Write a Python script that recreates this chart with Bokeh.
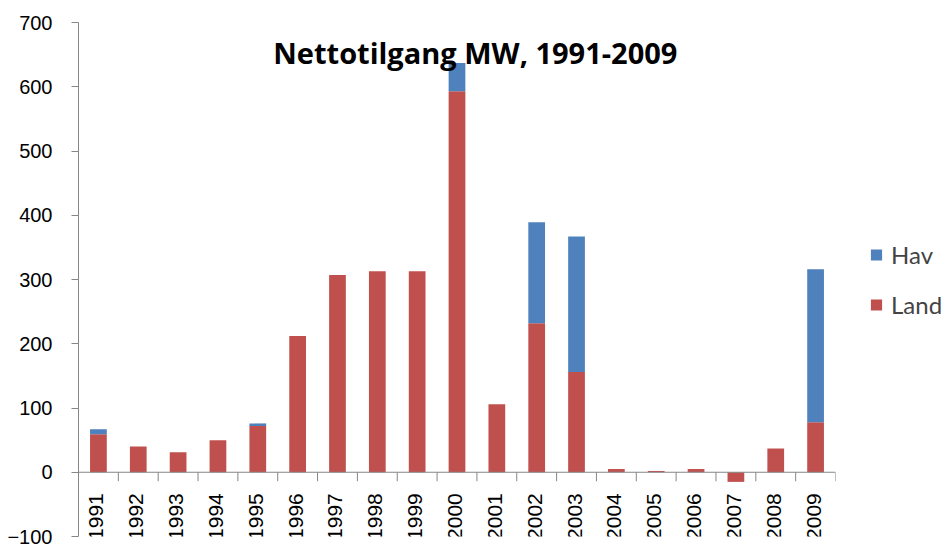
import math
from bokeh.plotting import figure
from bokeh.models import ColumnDataSource, Span, Legend, LegendItem, Label, Range1d, FixedTicker
from bokeh.core.properties import value
from bokeh.embed import file_html
from bokeh.resources import INLINE

years = ["1991", "1992", "1993", "1994", "1995", "1996", "1997", "1998", "1999", "2000",
         "2001", "2002", "2003", "2004", "2005", "2006", "2007", "2008", "2009"]
land = [59, 40, 31, 50, 72, 212, 307, 313, 313, 593, 106, 232, 156, 5, 2, 5, -15, 37, 78]
hav = [8, 0, 0, 0, 4, 0, 0, 0, 0, 44, 0, 157, 211, 0, 0, 0, 0, 0, 238]
y_ticks = [-100, 0, 100, 200, 300, 400, 500, 600, 700]

x = list(range(len(years)))
src = ColumnDataSource(dict(x=x, land=land, hav=hav, year=years,
                            zero=[0] * len(x)))

p = figure(frame_width=757, frame_height=514, output_backend="svg", toolbar_location=None,
           x_range=Range1d(-0.5, len(years) - 0.5), y_range=Range1d(-100, 700),
           min_border_left=78, min_border_top=22, min_border_bottom=10, min_border_right=0)
p.outline_line_color = None
p.xgrid.visible = False
p.ygrid.visible = False
p.xaxis.visible = False

yax = p.yaxis[0]
yax.ticker = FixedTicker(ticks=y_ticks)
yax.axis_line_color = "#868686"
yax.major_tick_line_color = "#868686"
yax.major_tick_in = 0
yax.major_tick_out = 7
yax.minor_tick_line_color = None
yax.major_label_text_font = "Liberation Sans"
yax.major_label_text_font_size = "20px"
yax.major_label_text_color = "#000000"
yax.major_label_standoff = 19

r = p.vbar_stack(["land", "hav"], x="x", width=0.42, source=src,
                 color=["#C0504D", "#4F81BD"], line_color=None)

# category axis at zero
p.add_layout(Span(location=0, dimension="width", line_color="#868686", line_width=1))
bx = [i + 0.5 for i in x]
p.segment(x0=bx, x1=bx, y0=[0] * len(bx), y1=[-14] * len(bx), line_color="#868686", line_width=1)
p.text(x="x", y="zero", text="year", source=src, angle=math.pi / 2,
       text_align="right", text_baseline="middle", y_offset=21, x_offset=-2,
       text_font=value("Liberation Sans"), text_font_size="21px", text_color="#000000")

title = Label(x=9.46, y=653, text="Nettotilgang MW, 1991-2009", text_align="center",
              text_baseline="alphabetic", text_font="Open Sans", text_font_style="bold",
              text_font_size="29px", text_color="#000000")
p.add_layout(title)

legend = Legend(items=[LegendItem(label="Hav", renderers=[r[1]]),
                       LegendItem(label="Land", renderers=[r[0]])],
                location="center_left", border_line_color=None, background_fill_alpha=0,
                glyph_width=14, glyph_height=14, label_height=20, spacing=21,
                label_text_font="Lato", label_text_font_size="24px", label_standoff=8,
                padding=0)
legend.margin = 34
p.add_layout(legend, "right")

open("out.html", "w").write(file_html(p, INLINE))
